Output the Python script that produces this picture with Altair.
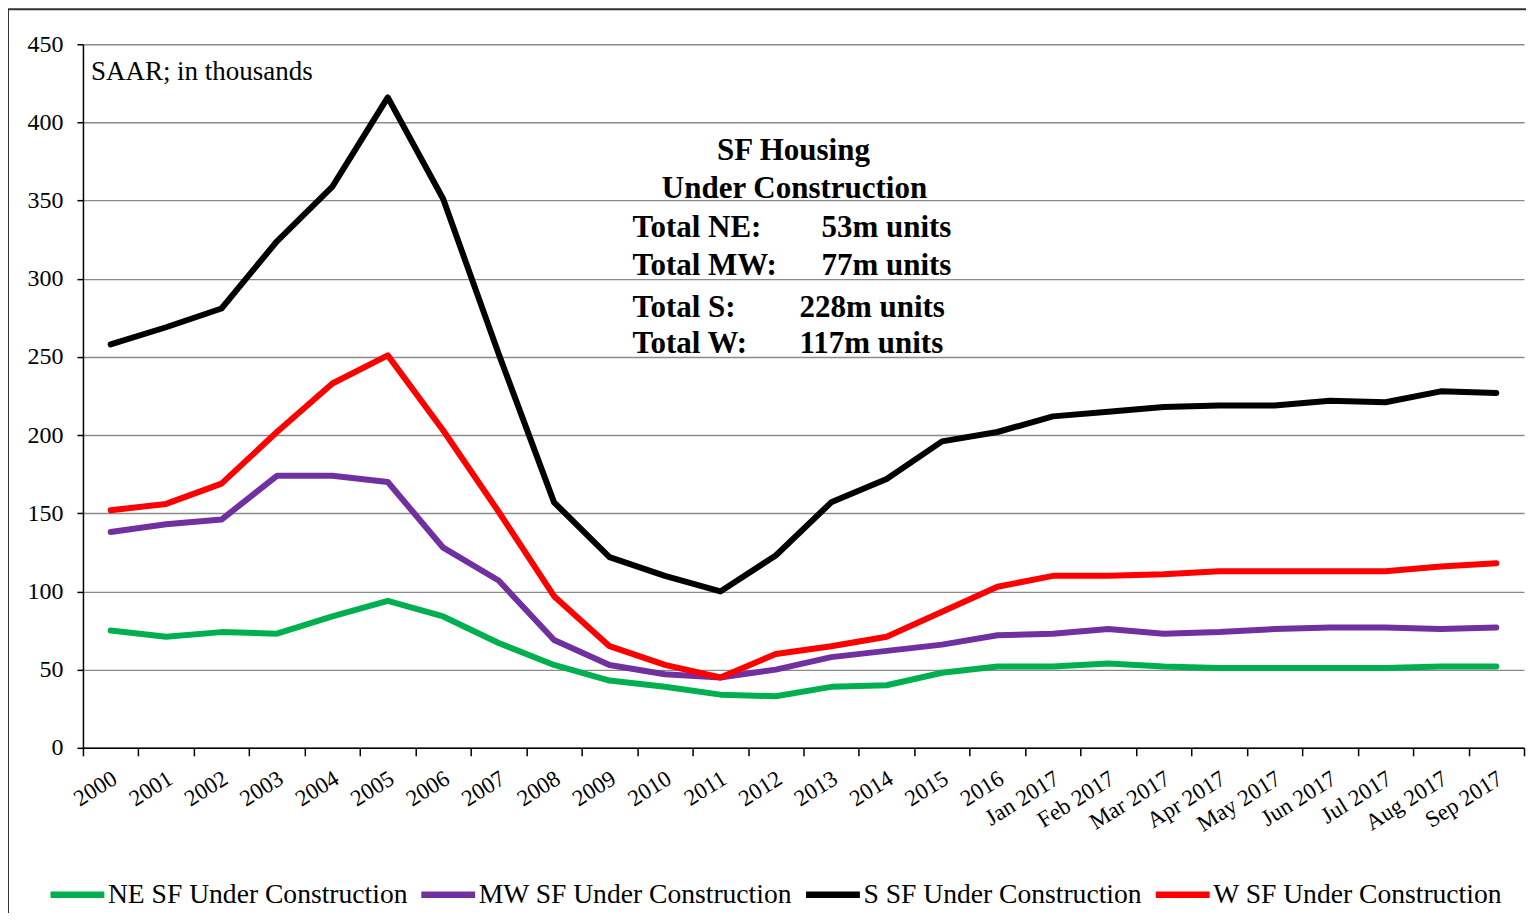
import altair as alt
import pandas as pd

categories = ["2000", "2001", "2002", "2003", "2004", "2005", "2006", "2007", "2008",
              "2009", "2010", "2011", "2012", "2013", "2014", "2015", "2016",
              "Jan 2017", "Feb 2017", "Mar 2017", "Apr 2017", "May 2017", "Jun 2017",
              "Jul 2017", "Aug 2017", "Sep 2017"]

ne = [75, 71, 74, 73, 84, 94, 84, 67, 53, 43, 39, 34, 33, 39, 40, 48, 52,
      52, 54, 52, 51, 51, 51, 51, 52, 52]
mw = [138, 143, 146, 174, 174, 170, 128, 107, 69, 53, 47, 45, 50, 58, 62, 66, 72,
      73, 76, 73, 74, 76, 77, 77, 76, 77]
s = [258, 269, 281, 324, 359, 416, 351, 252, 157, 122, 110, 100, 123, 157, 172, 196, 202,
     212, 215, 218, 219, 219, 222, 221, 228, 227]
w = [152, 156, 169, 202, 233, 251, 203, 151, 97, 65, 53, 45, 60, 65, 71, 87, 103,
     110, 110, 111, 113, 113, 113, 113, 116, 118]

series_names = ["NE SF Under Construction", "MW SF Under Construction",
                "S SF Under Construction", "W SF Under Construction"]
series_colors = ["#00B050", "#7030A0", "#000000", "#FF0000"]

rows = []
for name, vals in zip(series_names, [ne, mw, s, w]):
    for i, (c, v) in enumerate(zip(categories, vals)):
        rows.append({"cat": c, "value": v, "series": name, "order": i})
df = pd.DataFrame(rows)

FONT = "Liberation Serif"
W, H = 1442, 704

lines = alt.Chart(df).mark_line(strokeWidth=6, strokeCap="round", strokeJoin="round").encode(
    x=alt.X("cat:N", sort=categories, bandPosition=0.5,
            scale=alt.Scale(type="band", paddingInner=0, paddingOuter=0),
            axis=alt.Axis(title=None, labelAngle=-32, labelAlign="right", labelBaseline="top",
                          labelFontSize=23, labelFont=FONT, labelColor="black",
                          tickBand="extent", tickSize=8, tickColor="black", tickWidth=1.5,
                          domainColor="black", domainWidth=1.5, labelPadding=11,
                          labelOffset=-2, grid=False, labelOverlap=False)),
    y=alt.Y("value:Q", scale=alt.Scale(domain=[0, 450], nice=False),
            axis=alt.Axis(title=None, values=list(range(0, 451, 50)), labelFontSize=24,
                          labelFont=FONT, labelColor="black", tickSize=6, tickColor="black",
                          tickWidth=1.5, domainColor="black", domainWidth=1.5,
                          labelPadding=14, grid=True, gridColor="#8a8a8a", gridWidth=1.4)),
    color=alt.Color("series:N", sort=series_names,
                    scale=alt.Scale(domain=series_names, range=series_colors),
                    legend=alt.Legend(title=None, orient="none", direction="horizontal",
                                      legendX=-36, legendY=820, symbolType="stroke",
                                      symbolSize=2900, symbolStrokeWidth=6.5,
                                      labelFont=FONT, labelFontSize=27.6, labelColor="black",
                                      labelOffset=0, columnPadding=0, labelLimit=600,
                                      padding=0)),
    order=alt.Order("order:Q"),
)

one = pd.DataFrame({"k": [0]})


def label(txt, x, y, size, weight="normal", align="left"):
    return alt.Chart(one).mark_text(text=txt, font=FONT, fontSize=size, fontWeight=weight,
                                    align=align, baseline="alphabetic", color="black").encode(
        x=alt.value(x), y=alt.value(y))


texts = [
    label("SAAR; in thousands", 8, 36, 27),
    label("SF Housing", 711, 116, 31, "bold", "center"),
    label("Under Construction", 712, 154, 31, "bold", "center"),
    label("Total NE:", 550, 193, 31, "bold"),
    label("53m units", 739, 193, 31, "bold"),
    label("Total MW:", 550, 231, 31, "bold"),
    label("77m units", 739, 231, 31, "bold"),
    label("Total S:", 550, 273, 31, "bold"),
    label("228m units", 717, 273, 31, "bold"),
    label("Total W:", 550, 309, 31, "bold"),
    label("117m units", 717, 309, 31, "bold"),
]

frame_left = alt.Chart(one).mark_rule(color="#333333", strokeWidth=2).encode(
    x=alt.value(-75), y=alt.value(-35), y2=alt.value(870))
frame_top = alt.Chart(one).mark_rule(color="#333333", strokeWidth=2).encode(
    x=alt.value(-75), x2=alt.value(1450), y=alt.value(-35))

chart = alt.layer(lines, *texts, frame_left, frame_top).properties(
    width=W, height=H,
    autosize=alt.AutoSizeParams(type="none"),
    padding={"left": 75, "top": 36, "right": 2, "bottom": 165},
    background="white",
).configure_view(stroke=None)

chart.save("out.html", embed_options={"renderer": "svg", "actions": False})
